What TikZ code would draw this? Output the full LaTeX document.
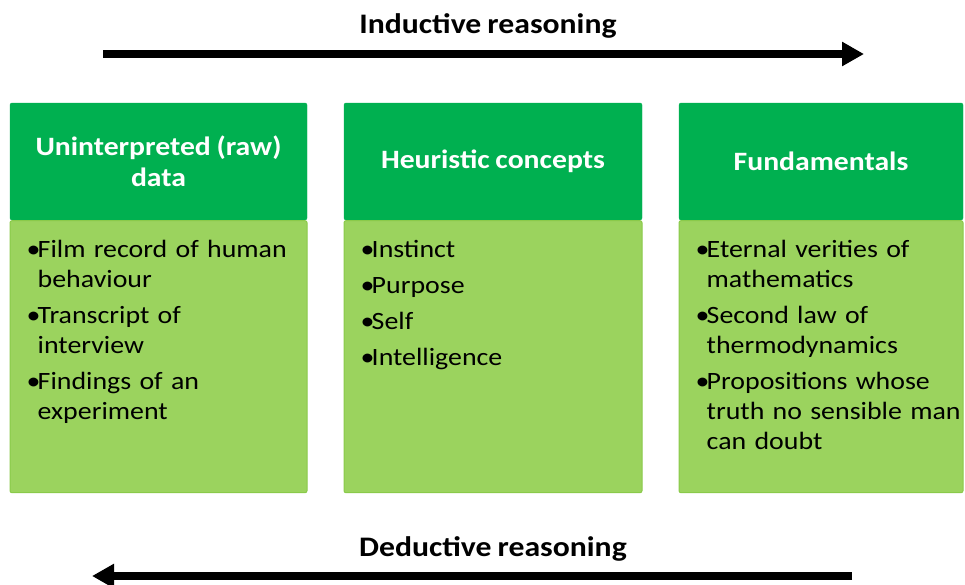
\documentclass[tikz,border=0pt]{standalone}
\usepackage{fontspec}
\setmainfont{Carlito}[FakeStretch=1.12,WordSpace=0.85]
\usetikzlibrary{arrows.meta}
\definecolor{hdgreen}{RGB}{0,176,80}
\definecolor{bdgreen}{RGB}{155,211,94}
\definecolor{bdline}{RGB}{138,202,74}
\newcommand{\bitem}[1]{\par\hangindent=11pt\hangafter=1\noindent\makebox[11pt][l]{\textbullet}#1\par\vspace{6pt}}

\begin{document}
\begin{tikzpicture}[x=1pt,y=-1pt,
  hdbox/.style={fill=hdgreen, draw=hdgreen, rounded corners=2pt, minimum height=117pt,
    inner sep=0pt, align=center, text=white, font=\fontsize{26.5}{31}\selectfont\bfseries},
  bdbox/.style={fill=bdgreen, draw=bdline, line width=1pt, rounded corners=2pt,
    minimum height=272pt, inner sep=0pt},
  itemlist/.style={text width=285pt, inner sep=0pt, align=left, font=\fontsize{24.9}{30}\selectfont},
  title/.style={font=\fontsize{28.3}{31}\selectfont\bfseries, inner sep=0pt},
  bigarrow/.style={line width=8.5pt, -{Triangle[length=22pt,width=23pt]}}]
\useasboundingbox (0,0) rectangle (965,584);

% Top label and arrow
\node[title] (ind) at (488,26) {Inductive reasoning};
\coordinate (indfrom) at (103,54);
\coordinate (indto) at (864,54);
\draw[bigarrow] (indfrom) -- (indto);

% Box 1
\node[hdbox, minimum width=297pt] (rawhd) at (158.5,161.5) {Uninterpreted (raw)\\data};
\node[bdbox, minimum width=297pt, anchor=north] (rawbd) at (rawhd.south) {};
\node[itemlist, anchor=north west] (rawls) at ([shift={(17,7)}]rawbd.north west)
  {\bitem{Film record of human\newline behaviour}\bitem{Transcript of\newline interview}\bitem{Findings of an\newline experiment}};

% Box 2
\node[hdbox, minimum width=298pt] (heuhd) at (493,161.5) {Heuristic concepts};
\node[bdbox, minimum width=298pt, anchor=north] (heubd) at (heuhd.south) {};
\node[itemlist, anchor=north west] (heuls) at ([shift={(17,7)}]heubd.north west)
  {\bitem{Instinct}\bitem{Purpose}\bitem{Self}\bitem{Intelligence}};

% Box 3
\node[hdbox, minimum width=284pt] (funhd) at (821,161.5) {Fundamentals};
\node[bdbox, minimum width=284pt, anchor=north] (funbd) at (funhd.south) {};
\node[itemlist, anchor=north west] (funls) at ([shift={(17,7)}]funbd.north west)
  {\bitem{Eternal verities of\newline mathematics}\bitem{Second law of\newline thermodynamics}\bitem{Propositions whose\newline truth no sensible man\newline can doubt}};

% Bottom label and arrow
\node[title] (ded) at (493,549) {Deductive reasoning};
\coordinate (dedfrom) at (852,576);
\coordinate (dedto) at (92,576);
\draw[bigarrow] (dedfrom) -- (dedto);
\end{tikzpicture}
\end{document}
